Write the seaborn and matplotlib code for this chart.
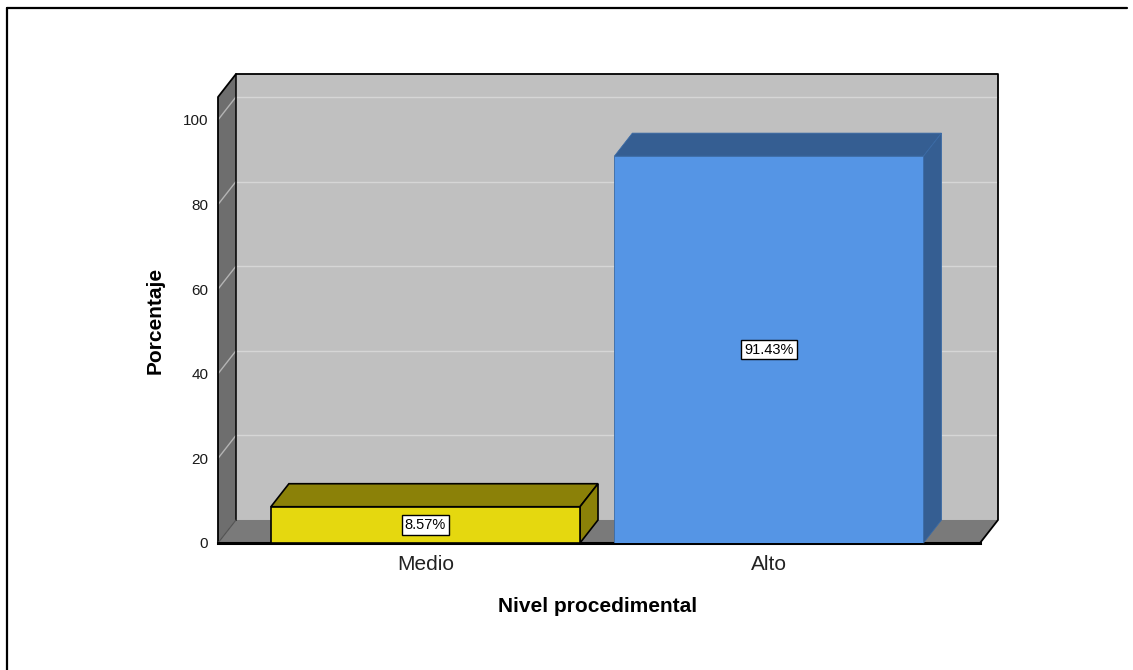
import matplotlib
matplotlib.use("Agg")
import matplotlib.pyplot as plt
from matplotlib.patches import Polygon
from matplotlib.lines import Line2D
import seaborn as sns
import pandas as pd

# Data
categories = ["Medio", "Alto"]
percentages = [8.57, 91.43]
y_ticks = [0, 20, 40, 60, 80, 100]

# Styling
front_colors = ["#e5d80f", "#5595e5"]
shade_colors = ["#8b8108", "#355e92"]
edge_colors = ["black", "#3a6aa5"]

sns.set_theme(style="white")
plt.rcParams["font.family"] = ["Liberation Sans", "DejaVu Sans"]

W, H = 1133, 670
fig = plt.figure(figsize=(W / 100, H / 100), dpi=100)
ax = fig.add_axes([218 / W, (H - 543) / H, 780 / W, 469 / H])

df = pd.DataFrame({"Nivel": categories, "Porcentaje": percentages})
sns.barplot(data=df, x="Nivel", y="Porcentaje", hue="Nivel",
            palette=front_colors, width=0.9, legend=False, ax=ax,
            zorder=5, saturation=1)
bars = list(ax.patches)

# Box extents (front plane) and depth offset of the 3D frame
X0, X1 = -0.604, 1.667
Y1 = 110.85
DX, DY = 0.0524, 5.44
ax.set_xlim(X0, X1)
ax.set_ylim(0, Y1)

wall_kw = dict(clip_on=False, linewidth=0)
# back wall
ax.add_patch(Polygon([(X0 + DX, DY), (X1, DY), (X1, Y1), (X0 + DX, Y1)],
                     facecolor="#c0c0c0", zorder=0, **wall_kw))
# left wall
ax.add_patch(Polygon([(X0, 0), (X0 + DX, DY), (X0 + DX, Y1), (X0, Y1 - DY)],
                     facecolor="#6e6e6e", zorder=1, **wall_kw))
# floor
ax.add_patch(Polygon([(X0, 0), (X1 - DX, 0), (X1, DY), (X0 + DX, DY)],
                     facecolor="#7a7a7a", zorder=1, **wall_kw))

# grid lines on the walls
for v in y_ticks[1:]:
    ax.plot([X0 + DX, X1], [v + DY, v + DY], color="#d6d6d6", lw=1,
            zorder=0.5, clip_on=False)
    ax.plot([X0, X0 + DX], [v, v + DY], color="#b4b4b4", lw=1,
            zorder=1.5, clip_on=False)

# frame outlines
line_kw = dict(color="black", clip_on=False, solid_capstyle="projecting")
ax.plot([X0, X0, X0 + DX, X1, X1, X1 - DX, X0],
        [0, Y1 - DY, Y1, Y1, DY, 0, 0], lw=1.3, zorder=2, **line_kw)
ax.plot([X0 + DX, X0 + DX], [DY, Y1], lw=1.1, zorder=2, **line_kw)
ax.plot([X0, X0 + DX], [0, DY], lw=0.8, color="#505050", zorder=2,
        clip_on=False)
ax.plot([X0, X1 - DX], [0, 0], lw=2.2, zorder=2, **line_kw)

# 3D faces of the bars and value labels
for p, v, shade, ec in zip(bars, percentages, shade_colors, edge_colors):
    x, w, h = p.get_x(), p.get_width(), p.get_height()
    lw = 1.2 if ec == "black" else 0.6
    p.set_edgecolor(ec)
    p.set_linewidth(lw)
    top = [(x, h), (x + w, h), (x + w + DX, h + DY), (x + DX, h + DY)]
    side = [(x + w, 0), (x + w + DX, DY), (x + w + DX, h + DY), (x + w, h)]
    ax.add_patch(Polygon(top, facecolor=shade, edgecolor=ec, lw=lw,
                         zorder=4, clip_on=False, joinstyle="miter"))
    ax.add_patch(Polygon(side, facecolor=shade, edgecolor=ec, lw=lw,
                         zorder=4, clip_on=False, joinstyle="miter"))
    ax.text(x + w / 2, h / 2, f"{v:.2f}%", ha="center", va="center",
            fontsize=10.5, color="black", zorder=10,
            bbox=dict(boxstyle="square,pad=0.2", facecolor="white",
                      edgecolor="black", linewidth=1))

# axes, ticks and labels
for s in ax.spines.values():
    s.set_visible(False)
ax.grid(False)
ax.set_facecolor("white")
ax.set_yticks(y_ticks)
ax.set_yticklabels([str(t) for t in y_ticks])
ax.tick_params(axis="y", length=0, pad=7, labelsize=11, labelcolor="#1a1a1a")
ax.tick_params(axis="x", length=0, pad=9, labelsize=15, labelcolor="#222222")

ax.set_xlabel("Nivel procedimental", fontsize=15, fontweight="bold",
              color="black", va="center")
ax.xaxis.set_label_coords((598 - 218) / 780, (543 - 606) / 469)
ax.set_ylabel("Porcentaje", fontsize=15, fontweight="bold",
              color="black", va="center")
ax.yaxis.set_label_coords((155 - 218) / 780, (543 - 320) / 469)

# page border
fig.add_artist(Line2D([6.5 / W, 6.5 / W], [0, 1 - 7.5 / H],
                      transform=fig.transFigure, color="black", lw=1.6))
fig.add_artist(Line2D([6.5 / W, 1127 / W], [1 - 7.5 / H, 1 - 7.5 / H],
                      transform=fig.transFigure, color="black", lw=1.6))

fig.savefig("out.png", dpi=100, facecolor="white")
